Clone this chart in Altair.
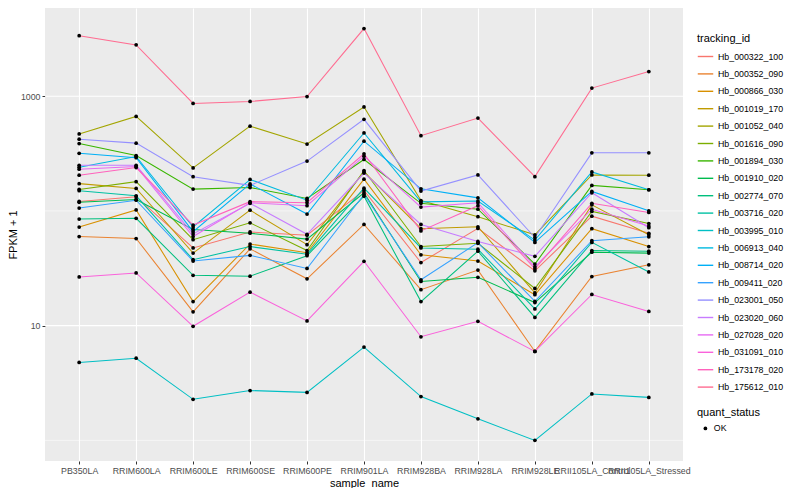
import altair as alt
import pandas as pd

samples = ["PB350LA", "RRIM600LA", "RRIM600LE", "RRIM600SE", "RRIM600PE", "RRIM901LA",
           "RRIM928BA", "RRIM928LA", "RRIM928LE", "RRII105LA_Control", "RRII105LA_Stressed"]

tracking_ids = ["Hb_000322_100", "Hb_000352_090", "Hb_000866_030", "Hb_001019_170",
                "Hb_001052_040", "Hb_001616_090", "Hb_001894_030", "Hb_001910_020",
                "Hb_002774_070", "Hb_003716_020", "Hb_003995_010", "Hb_006913_040",
                "Hb_008714_020", "Hb_009411_020", "Hb_023001_050", "Hb_023020_060",
                "Hb_027028_020", "Hb_031091_010", "Hb_173178_020", "Hb_175612_010"]

palette = ["#F8766D", "#EA8331", "#D89000", "#C09B00", "#A3A500", "#7CAE00", "#39B600",
           "#00BB4E", "#00BF7D", "#00C1A3", "#00BFC4", "#00BAE0", "#00B0F6", "#35A2FF",
           "#9590FF", "#C77CFF", "#E76BF3", "#FA62DB", "#FF62BC", "#FF6C91"]

# FPKM + 1 values, one list per tracking_id, in the order of `samples`
hb_000322_100 = [121, 133, 47.6, 65.6, 61.4, 151, 35.5, 70.4, 30.1, 90, 63.9]
hb_000352_090 = [59.8, 57.5, 13.2, 46.7, 25.6, 76.2, 20.6, 30.5, 5.96, 26.8, 33.9]
hb_000866_030 = [72.4, 102, 16.2, 51.5, 43.2, 189, 41.5, 36.6, 18.6, 70, 48.9]
hb_001019_170 = [173, 157, 42.9, 101.6, 50.8, 219, 70, 72.8, 19.3, 113, 61.9]
hb_001052_040 = [469, 667, 237, 548, 383, 806, 123, 89, 61.9, 206, 205]
hb_001616_090 = [154, 180, 56.1, 78.7, 45.2, 225, 48.9, 52.2, 21.1, 99, 77.6]
hb_001894_030 = [387, 304, 155, 160, 128.5, 281, 116.5, 103.5, 34.4, 167, 153]
hb_001910_020 = [119, 126, 69, 63.9, 56.8, 144, 24.3, 26.4, 15.9, 43.7, 42.9]
hb_002774_070 = [85, 86.3, 27.5, 27, 40.7, 134.5, 16.2, 44.6, 11.8, 45.2, 44.6]
hb_003716_020 = [150, 135.5, 37.6, 48.9, 42, 158, 47.6, 46.4, 14, 53.2, 29.4]
hb_003995_010 = [4.78, 5.2, 2.28, 2.72, 2.62, 6.5, 2.41, 1.54, 1.0, 2.54, 2.37]
hb_006913_040 = [240, 298, 72.4, 188, 124, 478, 120, 122, 55.7, 219, 153]
hb_008714_020 = [318, 291, 66, 172, 94, 406, 156, 130, 53.2, 148, 100.2]
hb_009411_020 = [106, 124, 36.6, 41, 31.5, 139, 25.1, 52.9, 16.3, 55, 59.5]
hb_023001_050 = [422, 390, 199, 167, 272, 629, 149, 206, 58.7, 321, 321]
hb_023020_060 = [250, 250, 63.1, 116.5, 62.6, 214, 76.2, 54.2, 40.2, 144, 71.4]
hb_027028_020 = [231, 244, 59.8, 118, 111, 300, 108, 118, 32.6, 103.5, 73.8]
hb_031091_010 = [26.6, 28.8, 9.87, 19.6, 11, 36.4, 8.0, 10.9, 5.96, 18.7, 13.3]
hb_173178_020 = [205, 239, 75.3, 120.5, 118, 315, 67, 111, 31.3, 116.5, 97]
hb_175612_010 = [3370, 2803, 865, 900, 992, 3890, 453, 645, 199, 1177, 1642]

series = [hb_000322_100, hb_000352_090, hb_000866_030, hb_001019_170, hb_001052_040,
          hb_001616_090, hb_001894_030, hb_001910_020, hb_002774_070, hb_003716_020,
          hb_003995_010, hb_006913_040, hb_008714_020, hb_009411_020, hb_023001_050,
          hb_023020_060, hb_027028_020, hb_031091_010, hb_173178_020, hb_175612_010]

major_breaks = [10, 1000]
minor_breaks = [1, 100]
y_domain = [0.661, 5875]

rows = []
for tid, vals in zip(tracking_ids, series):
    for s, v in zip(samples, vals):
        rows.append({"tracking_id": tid, "sample_name": s, "value": v, "quant_status": "OK"})
df = pd.DataFrame(rows)

FONT = "Liberation Sans"

yscale = alt.Scale(type="log", domain=y_domain, nice=False)
xscale = alt.Scale(type="point", domain=samples, padding=0.6)

x_enc = alt.X("sample_name:N", scale=xscale, sort=samples, title="sample_name",
              axis=alt.Axis(grid=True, gridColor="white", gridWidth=1.1, labelAngle=0,
                            labelOverlap=False, labelFontSize=8.8, labelColor="#4D4D4D",
                            tickColor="#333333", tickSize=3, domain=False, labelPadding=2,
                            titleFontSize=11, titleFontWeight="normal", titlePadding=3,
                            titleColor="black", labelFont=FONT, titleFont=FONT))
y_enc = alt.Y("value:Q", scale=yscale, title="FPKM + 1",
              axis=alt.Axis(values=major_breaks, format="d", grid=False, labelFontSize=8.8,
                            labelColor="#4D4D4D", tickColor="#333333", tickSize=3,
                            domain=False, labelPadding=2, titleFontSize=11,
                            titleFontWeight="normal", titleColor="black", titlePadding=2,
                            labelFont=FONT, titleFont=FONT))

minor = alt.Chart(pd.DataFrame({"value": minor_breaks})).mark_rule(
    color="white", strokeWidth=0.55).encode(y=alt.Y("value:Q", scale=yscale))
major = alt.Chart(pd.DataFrame({"value": major_breaks})).mark_rule(
    color="white", strokeWidth=1.1).encode(y=alt.Y("value:Q", scale=yscale))

lines = alt.Chart(df).mark_line(strokeWidth=1.05).encode(
    x=x_enc, y=y_enc,
    color=alt.Color("tracking_id:N",
                    scale=alt.Scale(domain=tracking_ids, range=palette),
                    legend=alt.Legend(title="tracking_id", orient="none", legendX=652,
                                      legendY=25, symbolType="stroke", symbolSize=240,
                                      symbolStrokeWidth=1.4, rowPadding=3.4,
                                      labelFontSize=8.8, titleFontSize=11,
                                      titleFontWeight="normal", titlePadding=4,
                                      labelFont=FONT, titleFont=FONT, labelColor="black",
                                      titleColor="black")),
    detail="tracking_id:N",
)

points = alt.Chart(df).mark_point(filled=True, size=14, opacity=1, color="black").encode(
    x=alt.X("sample_name:N", scale=xscale, sort=samples),
    y=alt.Y("value:Q", scale=yscale),
    shape=alt.Shape("quant_status:N", scale=alt.Scale(domain=["OK"], range=["circle"]),
                    legend=alt.Legend(title="quant_status", orient="none", legendX=652,
                                      legendY=399, symbolSize=14, symbolFillColor="black",
                                      symbolStrokeColor="black", labelFontSize=8.8,
                                      titleFontSize=11, titleFontWeight="normal",
                                      titlePadding=6, labelFont=FONT, titleFont=FONT,
                                      labelColor="black", titleColor="black",
                                      symbolOffset=4)),
)

chart = alt.layer(minor, major, lines, points).properties(
    width=638, height=453,
    padding={"left": 37, "top": 0, "right": 105, "bottom": 27},
    autosize=alt.AutoSizeParams(type="none"),
    background="white",
).configure_view(fill="#EBEBEB", strokeWidth=0)

chart.save("out.html", embed_options={"renderer": "svg", "actions": False})
